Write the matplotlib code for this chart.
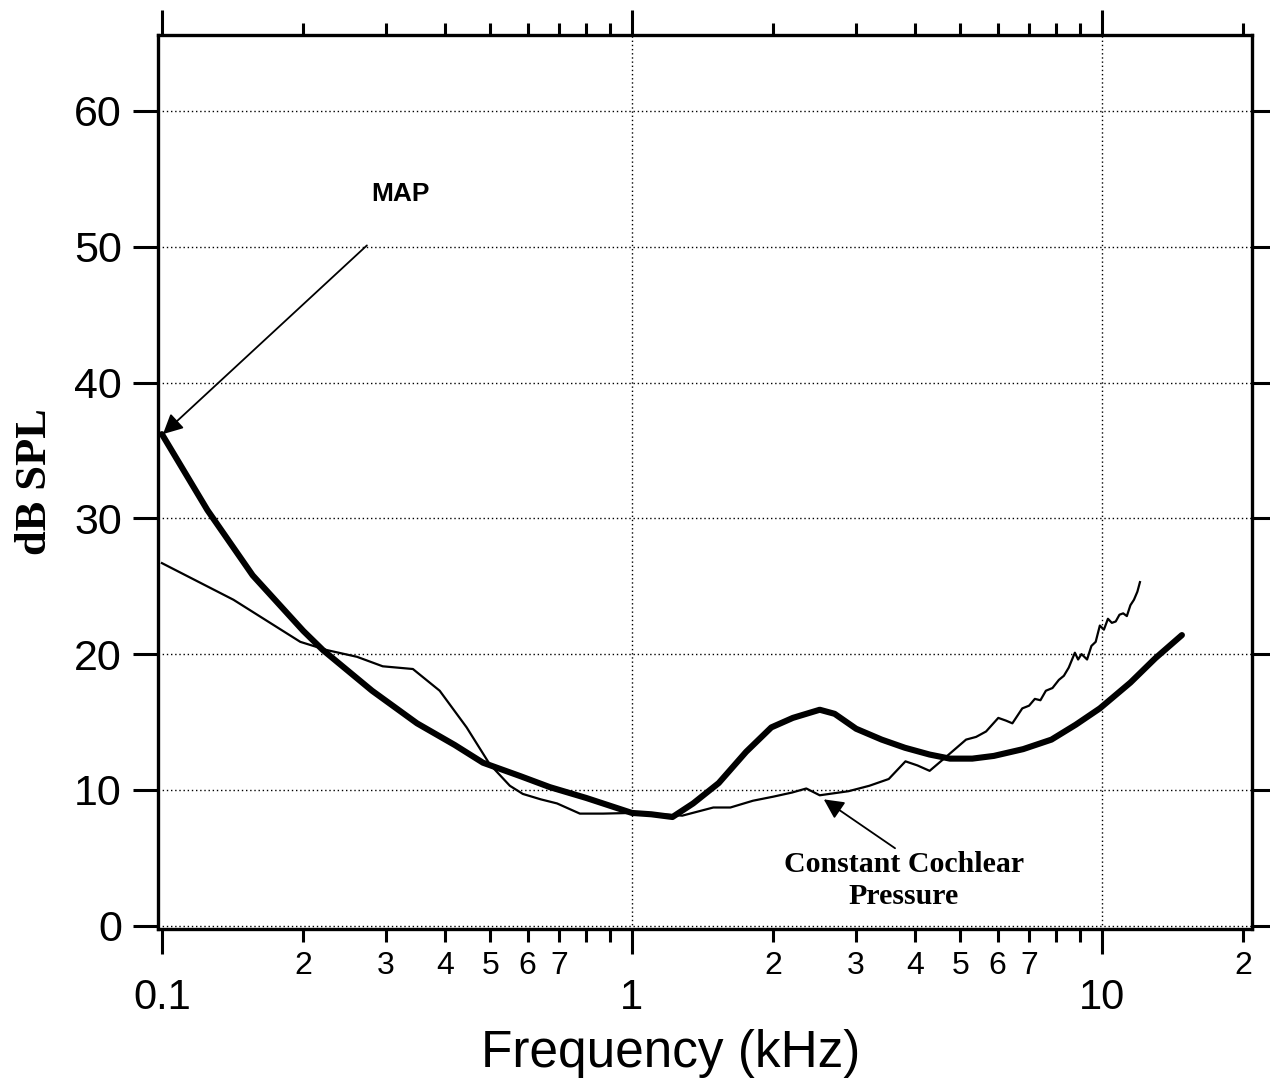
import numpy as np
import matplotlib
matplotlib.use("Agg")
import matplotlib.pyplot as plt
from matplotlib.ticker import FixedLocator, FixedFormatter

# --- MAP (minimum audible pressure) curve, thick line ---
map_freq_khz = [0.1, 0.125, 0.156, 0.2, 0.22, 0.28, 0.349, 0.42, 0.482, 0.58,
                0.669, 0.8, 1.0, 1.1, 1.22, 1.35, 1.53, 1.75, 1.98, 2.2,
                2.51, 2.7, 3.0, 3.4, 3.81, 4.3, 4.75, 5.3, 5.89, 6.8,
                7.81, 8.8, 9.9, 11.5, 13.0, 14.8]
map_db = [36.2, 30.6, 25.8, 21.7, 20.3, 17.3, 14.9, 13.3, 12.0, 11.0,
          10.2, 9.4, 8.3, 8.2, 8.0, 9.0, 10.5, 12.8, 14.6, 15.3,
          15.9, 15.6, 14.5, 13.7, 13.1, 12.6, 12.3, 12.3, 12.5, 13.0,
          13.7, 14.8, 16.0, 17.9, 19.7, 21.4]

# --- constant cochlear pressure curve, thin line ---
ccp_freq_khz = [0.1, 0.142, 0.197, 0.224, 0.26, 0.295, 0.342, 0.39, 0.445, 0.498,
                0.55, 0.586, 0.64, 0.693, 0.775, 0.868, 1.0, 1.15, 1.28, 1.49,
                1.62, 1.81, 2.0, 2.19, 2.35, 2.51, 2.89, 3.2, 3.52, 3.82,
                4.05, 4.3, 4.65, 5.14, 5.4, 5.67, 6.02, 6.25, 6.45, 6.77,
                7.0, 7.2, 7.4, 7.6, 7.85, 8.1, 8.3, 8.5, 8.76, 8.9,
                9.05, 9.3, 9.5, 9.7, 9.9, 10.1, 10.3, 10.5, 10.7, 10.9,
                11.1, 11.3, 11.5, 11.7, 11.9, 12.05]
ccp_db = [26.7, 24.0, 20.9, 20.3, 19.8, 19.1, 18.9, 17.3, 14.6, 11.9,
          10.3, 9.7, 9.3, 9.0, 8.25, 8.25, 8.3, 8.2, 8.1, 8.7,
          8.7, 9.2, 9.5, 9.8, 10.1, 9.6, 9.9, 10.3, 10.8, 12.1,
          11.8, 11.4, 12.4, 13.7, 13.9, 14.3, 15.3, 15.1, 14.9, 16.0,
          16.2, 16.7, 16.6, 17.3, 17.5, 18.1, 18.4, 19.0, 20.1, 19.6,
          20.0, 19.6, 20.6, 20.9, 22.1, 21.8, 22.6, 22.3, 22.4, 22.9,
          23.0, 22.8, 23.6, 24.0, 24.6, 25.3]

y_ticks = [0, 10, 20, 30, 40, 50, 60]
x_major = [0.1, 1, 10]
x_major_labels = ["0.1", "1", "10"]
x_minor = [0.2, 0.3, 0.4, 0.5, 0.6, 0.7, 0.8, 0.9,
           2, 3, 4, 5, 6, 7, 8, 9,
           20]
x_minor_labels = ["2", "3", "4", "5", "6", "7", "", "",
                  "2", "3", "4", "5", "6", "7", "", "",
                  "2"]

SANS = "Liberation Sans"
SERIF = "Liberation Serif"

fig = plt.figure(figsize=(12.7, 10.79), dpi=100)
ax = fig.add_axes([0.1244, 0.139, 0.8614, 0.8286])

ax.set_xscale("log")
ax.set_xlim(0.0981, 20.86)
ax.set_ylim(-0.25, 65.6)

# grade pontilhada
for y in y_ticks:
    ax.axhline(y, color="black", lw=1.0, ls=(0, (1, 2)), zorder=1)
for x in [1, 10]:
    ax.axvline(x, color="black", lw=1.0, ls=(0, (1, 2)), zorder=1)

ax.plot(ccp_freq_khz, ccp_db, color="black", lw=1.6, zorder=3)
ax.plot(map_freq_khz, map_db, color="black", lw=4.4, solid_capstyle="round", zorder=4)

# ticks
ax.xaxis.set_major_locator(FixedLocator(x_major))
ax.xaxis.set_major_formatter(FixedFormatter(x_major_labels))
ax.xaxis.set_minor_locator(FixedLocator(x_minor))
ax.xaxis.set_minor_formatter(FixedFormatter(x_minor_labels))
ax.set_yticks(y_ticks)

ax.tick_params(axis="x", which="major", direction="out", length=18, width=2.2,
               top=True, labelsize=30, pad=17)
ax.tick_params(axis="x", which="minor", direction="out", length=9, width=2.2,
               top=True, labelsize=23, pad=7)
ax.tick_params(axis="y", which="major", direction="out", length=18, width=2.2,
               right=True, labelsize=31, pad=8)
for lab in ax.get_xticklabels(which="both") + ax.get_yticklabels():
    lab.set_family(SANS)

for side in ax.spines.values():
    side.set_linewidth(2.4)

ax.set_xlabel("Frequency (kHz)", fontsize=37, family=SANS)
ax.xaxis.set_label_coords(0.469, -0.112)
ax.set_ylabel("dB SPL", fontsize=32, family=SERIF, fontweight="bold", labelpad=14)

# anotacoes
ax.text(0.3225, 53.9, "MAP", fontsize=19, family=SANS, fontweight="bold",
        ha="center", va="center")
ax.annotate("", xy=(0.1005, 36.2), xytext=(0.273, 50.1),
            arrowprops=dict(arrowstyle="-|>", color="black", lw=1.3,
                            mutation_scale=30, shrinkA=0, shrinkB=0))
ax.text(3.79, 3.3, "Constant Cochlear\nPressure", fontsize=21.5, family=SERIF,
        fontweight="bold", ha="center", va="center", linespacing=1.25)
ax.annotate("", xy=(2.56, 9.3), xytext=(3.63, 5.7),
            arrowprops=dict(arrowstyle="-|>", color="black", lw=1.3,
                            mutation_scale=30, shrinkA=0, shrinkB=0))

fig.savefig("out.png", dpi=100)
